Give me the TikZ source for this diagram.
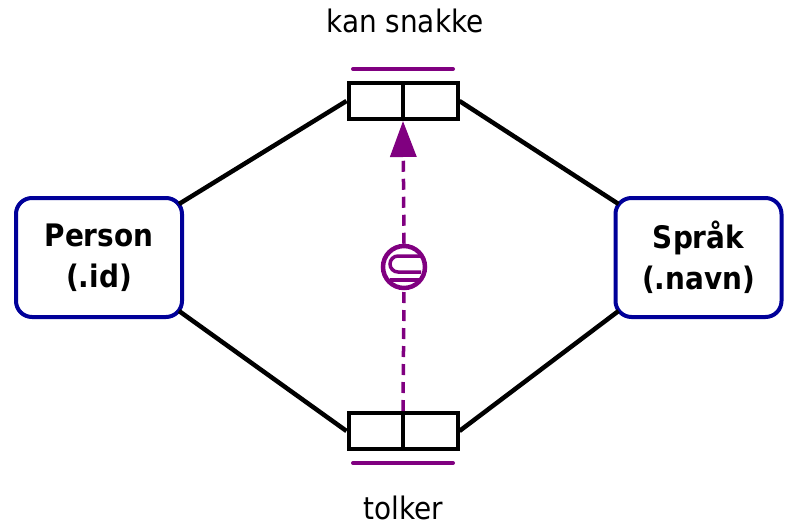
\documentclass[tikz,border=0pt]{standalone}
\usepackage{fontspec}
\setmainfont{DejaVu Sans Condensed}
\usetikzlibrary{arrows.meta}
\definecolor{entblue}{HTML}{000099}
\definecolor{relpurple}{HTML}{800080}
\begin{document}
\begin{tikzpicture}[x=1pt,y=-1pt,
  entity/.style={draw=entblue,line width=4pt,rounded corners=16pt,minimum width=166pt,minimum height=119pt,align=center,font=\fontsize{31}{41}\selectfont\bfseries,inner sep=0pt},
  relbox/.style={draw=black,line width=4pt,minimum width=109pt,minimum height=36pt,inner sep=0pt},
  conn/.style={draw=black,line width=4.5pt},
  bar/.style={draw=relpurple,line width=4pt,line cap=round},
  lbl/.style={font=\fontsize{31}{34}\selectfont}]
\useasboundingbox (0,0) rectangle (795,527);
\node[entity] (person) at (99,257.5) {Person\\(.id)};
\node[entity] (sprak) at (698.5,257.5) {Språk\\(.navn)};
\node[relbox] (top) at (403,101) {};
\node[relbox] (bot) at (403,431) {};
\draw[draw=black,line width=4pt] (top.north) -- (top.south);
\draw[draw=black,line width=4pt] (bot.north) -- (bot.south);
\draw[conn] (person.north east) ++(-5,8) coordinate (pa) -- (top.west);
\draw[conn] (person.south east) ++(-5,-8) coordinate (pb) -- (bot.west);
\draw[conn] (sprak.north west) ++(5,8) coordinate (sa) -- (top.east);
\draw[conn] (sprak.south west) ++(5,-8) coordinate (sb) -- (bot.east);
\coordinate (tl1) at (353,69); \coordinate (tl2) at (453,69);
\coordinate (bl1) at (353,463); \coordinate (bl2) at (453,463);
\draw[bar] (tl1) -- (tl2);
\draw[bar] (bl1) -- (bl2);
\node[draw=relpurple,line width=4.5pt,circle,minimum size=42pt,inner sep=0pt,fill=white] (sub) at (404,267) {};
\draw[relpurple,line width=3.5pt,dash pattern=on 11pt off 7pt] (bot.north) -- (sub.south);
\draw[relpurple,line width=3.5pt,dash pattern=on 11pt off 7pt,-{Triangle[length=36pt,width=26pt]}] (sub.north) -- (top.south);
\coordinate (c1) at (421,256);
\coordinate (c2) at (398,256);
\coordinate (c4) at (421,272);
\coordinate (u1) at (390,280);
\coordinate (u2) at (421,280);
\draw[relpurple,line width=3.5pt] (c1) -- (c2) arc[start angle=90,end angle=270,radius=8pt] -- (c4);
\draw[relpurple,line width=3.5pt] (u1) -- (u2);
\node[lbl] (kan) at (405,21) {kan snakke};
\node[lbl] (tolker) at (403,508) {tolker};
\end{tikzpicture}
\end{document}
